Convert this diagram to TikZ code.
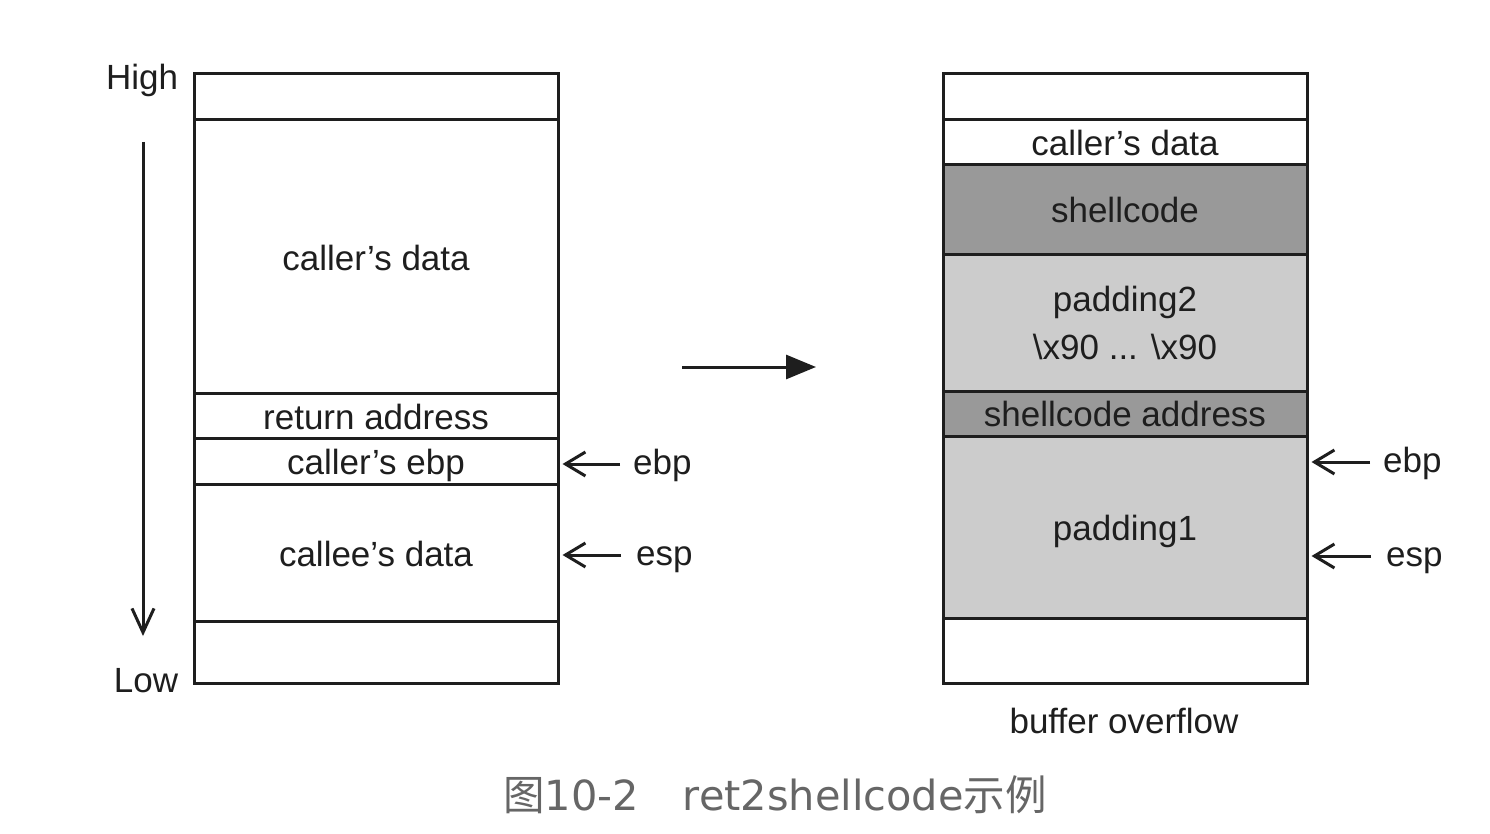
\documentclass[tikz,border=0pt]{standalone}
\usepackage{fontspec}
\setmainfont{Liberation Sans}
\newfontfamily\capfont{DejaVu Sans}
\newfontfamily\cjk{Noto Sans CJK SC}
\usetikzlibrary{arrows.meta}
\definecolor{darkfill}{HTML}{999999}
\definecolor{lightfill}{HTML}{CCCCCC}
\definecolor{txt}{HTML}{1E1E1E}
\definecolor{capgray}{HTML}{666666}
\newcommand{\lowerby}[2]{\raisebox{-#1}[\height][\depth]{#2}}
\tikzset{
  cell/.style={draw=txt, line width=3pt, rectangle, inner sep=0pt, minimum width=364pt, text=txt, font=\fontsize{35}{48}\selectfont},
  dark/.style={fill=darkfill},
  light/.style={fill=lightfill},
  lbl/.style={text=txt, font=\fontsize{35}{40}\selectfont, inner sep=0pt, text height=20pt, text depth=0pt},
  ptr/.style={draw=txt, line width=3pt, -{Straight Barb[length=20pt,width=24pt,line width=3pt]}},
  vptr/.style={draw=txt, line width=3pt, -{Straight Barb[length=24pt,width=22pt,line width=3pt]}},
  bigarrow/.style={draw=txt, line width=3pt, -{Triangle[length=30pt,width=24pt]}},
}
\begin{document}
\begin{tikzpicture}[x=1pt,y=-1pt]
\useasboundingbox (0,0) rectangle (1490,834);
% left stack
\node[cell, minimum height=46pt] (l1) at (376,97) {};
\node[cell, minimum height=273pt] (l2) at (376,256.5) {\lowerby{1pt}{caller’s data}};
\node[cell, minimum height=45pt] (l3) at (376,415.5) {\lowerby{1pt}{return address}};
\node[cell, minimum height=46pt] (l4) at (376,461) {\lowerby{4pt}{caller’s ebp}};
\node[cell, minimum height=137pt] (l5) at (376,552.5) {\lowerby{1pt}{callee’s data}};
\node[cell, minimum height=62pt] (l6) at (376,652) {};
% right stack
\node[cell, minimum height=46pt] (r1) at (1125,97) {};
\node[cell, minimum height=45pt] (r2) at (1125,142.5) {caller’s data};
\node[cell, dark, minimum height=90pt] (r3) at (1125,210) {shellcode};
\node[cell, light, align=center, minimum height=136pt] (r4) at (1125,323) {padding2\\\textbackslash x90 ... \textbackslash x90};
\node[cell, dark, minimum height=45pt] (r5) at (1125,413.5) {shellcode address};
\node[cell, light, minimum height=182pt] (r6) at (1125,527) {\lowerby{4pt}{padding1}};
\node[cell, minimum height=65pt] (r7) at (1125,650.5) {};
% High / Low
\node[lbl] (high) at (142,80) {High};
\node[lbl] (low) at (146,682) {Low};
\coordinate (gtop) at (143,142);
\coordinate (gbot) at (143,636);
\draw[vptr] (gtop) -- (gbot);
% left pointers
\node[lbl, anchor=west] (ebpL) at (633,464) {ebp};
\node[lbl, anchor=west] (espL) at (636,555) {esp};
\draw[ptr, shorten <=13pt, shorten >=3pt] (ebpL.west) -- (ebpL.west -| l4.east);
\draw[ptr, shorten <=15pt, shorten >=3pt] (espL.west) -- (espL.west -| l5.east);
% right pointers
\node[lbl, anchor=west] (ebpR) at (1383,462) {ebp};
\node[lbl, anchor=west] (espR) at (1386,556) {esp};
\draw[ptr, shorten <=13pt, shorten >=3pt] (ebpR.west) -- (ebpR.west -| r6.east);
\draw[ptr, shorten <=15pt, shorten >=3pt] (espR.west) -- (espR.west -| r6.east);
% middle arrow
\coordinate (ma) at (682,367);
\coordinate (mb) at (816,367);
\draw[bigarrow] (ma) -- (mb);
% labels
\node[lbl] (bo) at (1124,723) {buffer overflow};
\node[text=capgray, inner sep=0pt] (cap) at (775,795) {\fontsize{41.5}{44}\selectfont{\cjk 图}{\capfont 10-2}\hspace{44pt}{\capfont ret2shellcode}{\cjk 示例}};
\end{tikzpicture}
\end{document}
